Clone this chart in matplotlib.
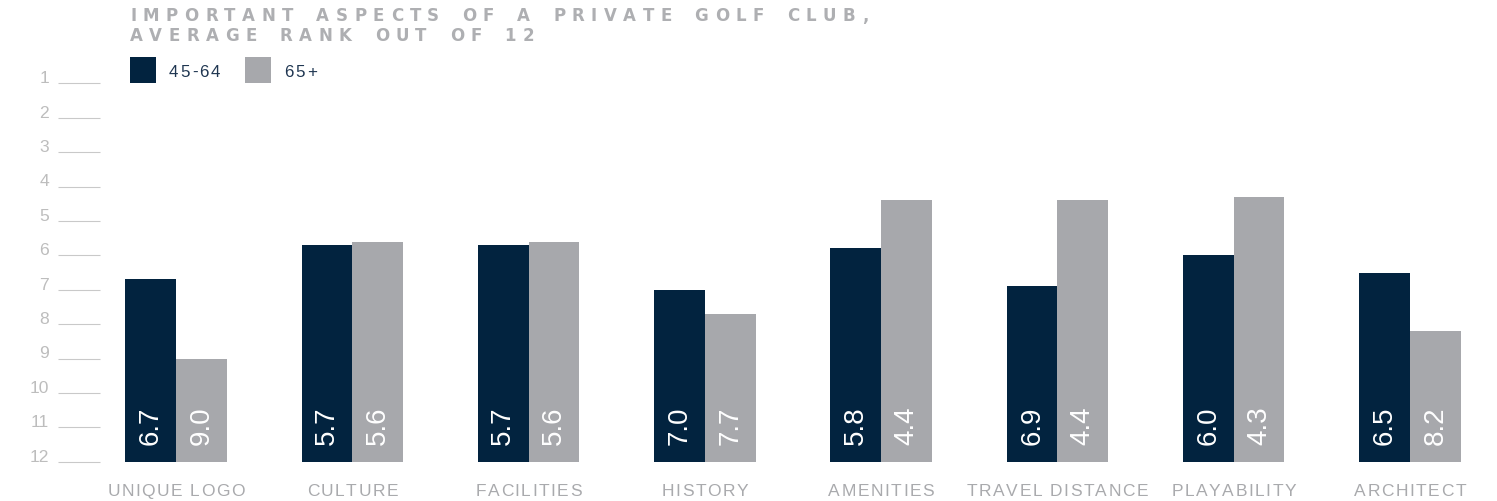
import matplotlib

matplotlib.use("Agg")
import matplotlib.pyplot as plt
from matplotlib.font_manager import FontProperties, findfont, get_font
from matplotlib.patches import Rectangle

# average rank (1 = most important) for each aspect, by age group
aspects = ["UNIQUE LOGO", "CULTURE", "FACILITIES", "HISTORY",
           "AMENITIES", "TRAVEL DISTANCE", "PLAYABILITY", "ARCHITECT"]
rank_45_64 = [6.7, 5.7, 5.7, 7.0, 5.8, 6.9, 6.0, 6.5]
rank_65_plus = [9.0, 5.6, 5.6, 7.7, 4.4, 4.4, 4.3, 8.2]
groups = ["45-64", "65+"]
rank_ticks = list(range(1, 13))
title_lines = ["IMPORTANT ASPECTS OF A PRIVATE GOLF CLUB,", "AVERAGE RANK OUT OF 12"]

NAVY = "#02233F"
GREY = "#A7A8AC"
FONT = "Liberation Sans"

W, H, DPI = 1497, 501, 100
fig = plt.figure(figsize=(W / DPI, H / DPI), dpi=DPI)
plt.rcParams["font.family"] = [FONT, "DejaVu Sans"]


def tracked_text(x_px, y_px, s, size, tracking=0.0, word_extra=0.0,
                 weight="normal", color="black", ha="left", family=FONT):
    """Draw s with extra letter spacing; x/y in pixels from the top-left."""
    prop = FontProperties(family=family, weight=weight, size=size)
    font = get_font(findfont(prop))
    font.set_size(size, DPI)
    advances = []
    for ch in s:
        adv = font.load_char(ord(ch)).linearHoriAdvance / 65536
        adv += tracking + (word_extra if ch == " " else 0.0)
        advances.append(adv)
    total = sum(advances) - tracking
    x = x_px - (total / 2 if ha == "center" else 0.0)
    for ch, adv in zip(s, advances):
        if ch != " ":
            fig.text(x / W, 1 - y_px / H, ch, fontproperties=prop, color=color,
                     ha="left", va="baseline")
        x += adv


# plot area: rank 1 at the top, 12 at the bottom
ax = fig.add_axes([100 / W, (H - 461.7) / H, (W - 100) / W, (461.7 - 83.3) / H])
x = list(range(len(aspects)))
bar_w = 0.2875
ax.set_xlim(-0.431, -0.431 + (W - 100) / 176.3)
ax.set_ylim(12, 1)

for i, (a, b) in enumerate(zip(rank_45_64, rank_65_plus)):
    ax.bar(i - bar_w / 2, 12 - a, bottom=a, width=bar_w, color=NAVY, linewidth=0)
    ax.bar(i + bar_w / 2, 12 - b, bottom=b, width=bar_w, color=GREY, linewidth=0)
    for xpos, v in ((i - bar_w / 2, a), (i + bar_w / 2, b)):
        ax.text(xpos, 10.95, f"{v:.1f}", rotation=90, ha="center", va="center",
                color="white", fontsize=20)

for side in ax.spines.values():
    side.set_visible(False)
ax.set_xticks([])
ax.set_yticks(rank_ticks)
ax.set_yticklabels([str(t) for t in rank_ticks])
ax.tick_params(axis="y", direction="out", length=30.2, width=0.8,
               color="#C9C9C9", pad=6.3, labelsize=12.6, labelcolor="#BDBDBD")
for lbl in ax.get_yticklabels():
    lbl.set_verticalalignment("baseline")

# category names under each pair of bars
for i, name in enumerate(aspects):
    cx = ax.transData.transform((i, 1))[0]
    tracked_text(cx, 496, name, 12.5, tracking=1.5, color="#A9AAAD", ha="center")

# title, widely letter-spaced
for line, base in zip(title_lines, (21.0, 41.0)):
    tracked_text(130, base, line, 12.0, tracking=6.5, word_extra=4.2,
                 weight="bold", color="#AEAFB2", family="DejaVu Sans")

# legend
for (sx, tx), label, colour in zip(((130, 169), (245, 284)), groups, (NAVY, GREY)):
    fig.patches.append(Rectangle((sx / W, 1 - 82.7 / H), 26 / W, 25.4 / H,
                                 transform=fig.transFigure, color=colour, linewidth=0))
    tracked_text(tx, 76.7, label, 12.2, tracking=2.0, color="#1F3651")

fig.savefig("out.png", dpi=DPI)
